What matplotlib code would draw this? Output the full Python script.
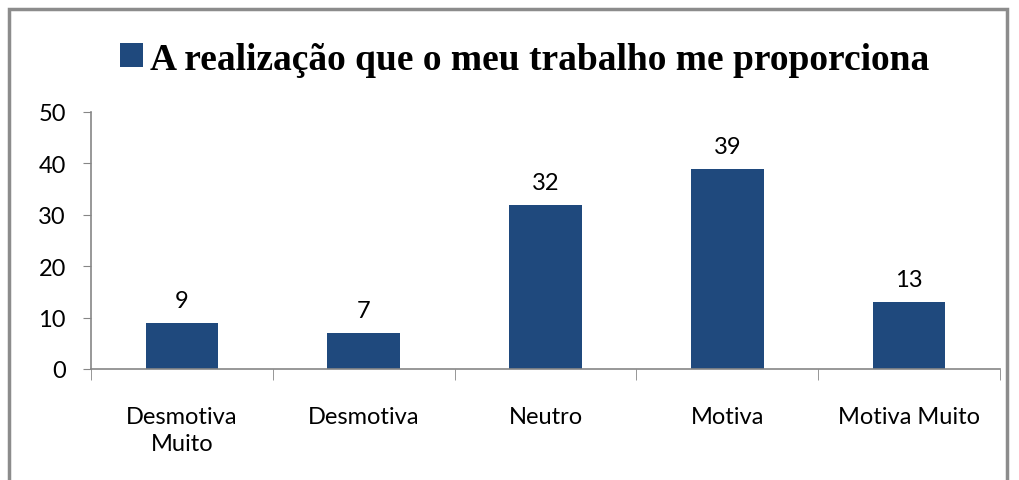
import matplotlib.pyplot as plt
from matplotlib.patches import Rectangle

categories = ["Desmotiva\nMuito", "Desmotiva", "Neutro", "Motiva", "Motiva Muito"]
values = [9, 7, 32, 39, 13]
series_name = "A realização que o meu trabalho me proporciona"

bar_color = "#1F497D"
axis_color = "#868686"

fig = plt.figure(figsize=(10.2, 4.81), dpi=100)
ax = fig.add_axes([91/1020, 1 - 370/481, (1000-91)/1020, (370-113)/481])

x = range(len(categories))
bars = ax.bar(x, values, width=0.4, color=bar_color, label=series_name, zorder=2)

for xi, v in zip(x, values):
    ax.text(xi, v + 2.3, str(v), ha="center", va="bottom", fontsize=17, family="Lato")

ax.set_xlim(-0.5, len(categories) - 0.5)
ax.set_ylim(0, 50)
ax.set_yticks(range(0, 51, 10))
ax.set_yticklabels([str(t) for t in range(0, 51, 10)], fontsize=17, family="Lato")

# category names centred, tick marks on the boundaries
ax.set_xticks(list(x))
ax.set_xticklabels(categories, fontsize=17, family="Lato", linespacing=1.3)
ax.tick_params(axis="x", length=0, pad=27)
ax.set_xticks([i - 0.5 for i in range(len(categories) + 1)], minor=True)
ax.tick_params(axis="x", which="minor", length=8, color=axis_color, direction="out")
ax.tick_params(axis="y", length=6, color=axis_color, direction="out", pad=12)

for s in ["top", "right"]:
    ax.spines[s].set_visible(False)
for s in ["left", "bottom"]:
    ax.spines[s].set_color(axis_color)
    ax.spines[s].set_linewidth(1.2)

leg = fig.legend(handles=[bars], labels=[series_name], loc="center",
                 bbox_to_anchor=(525/1020, 1 - 60/481), frameon=False,
                 prop={"family": "Liberation Serif", "weight": "bold", "size": 27},
                 handlelength=0.6, handleheight=0.6, handletextpad=0.2)

# outer chart border
fig.patches.append(Rectangle((9/1020, -0.1), (1007-9)/1020, 1.1 - 10/481,
                             transform=fig.transFigure, fill=False,
                             edgecolor="#8C8C8C", linewidth=2.5))

fig.savefig("out.png", dpi=100)
